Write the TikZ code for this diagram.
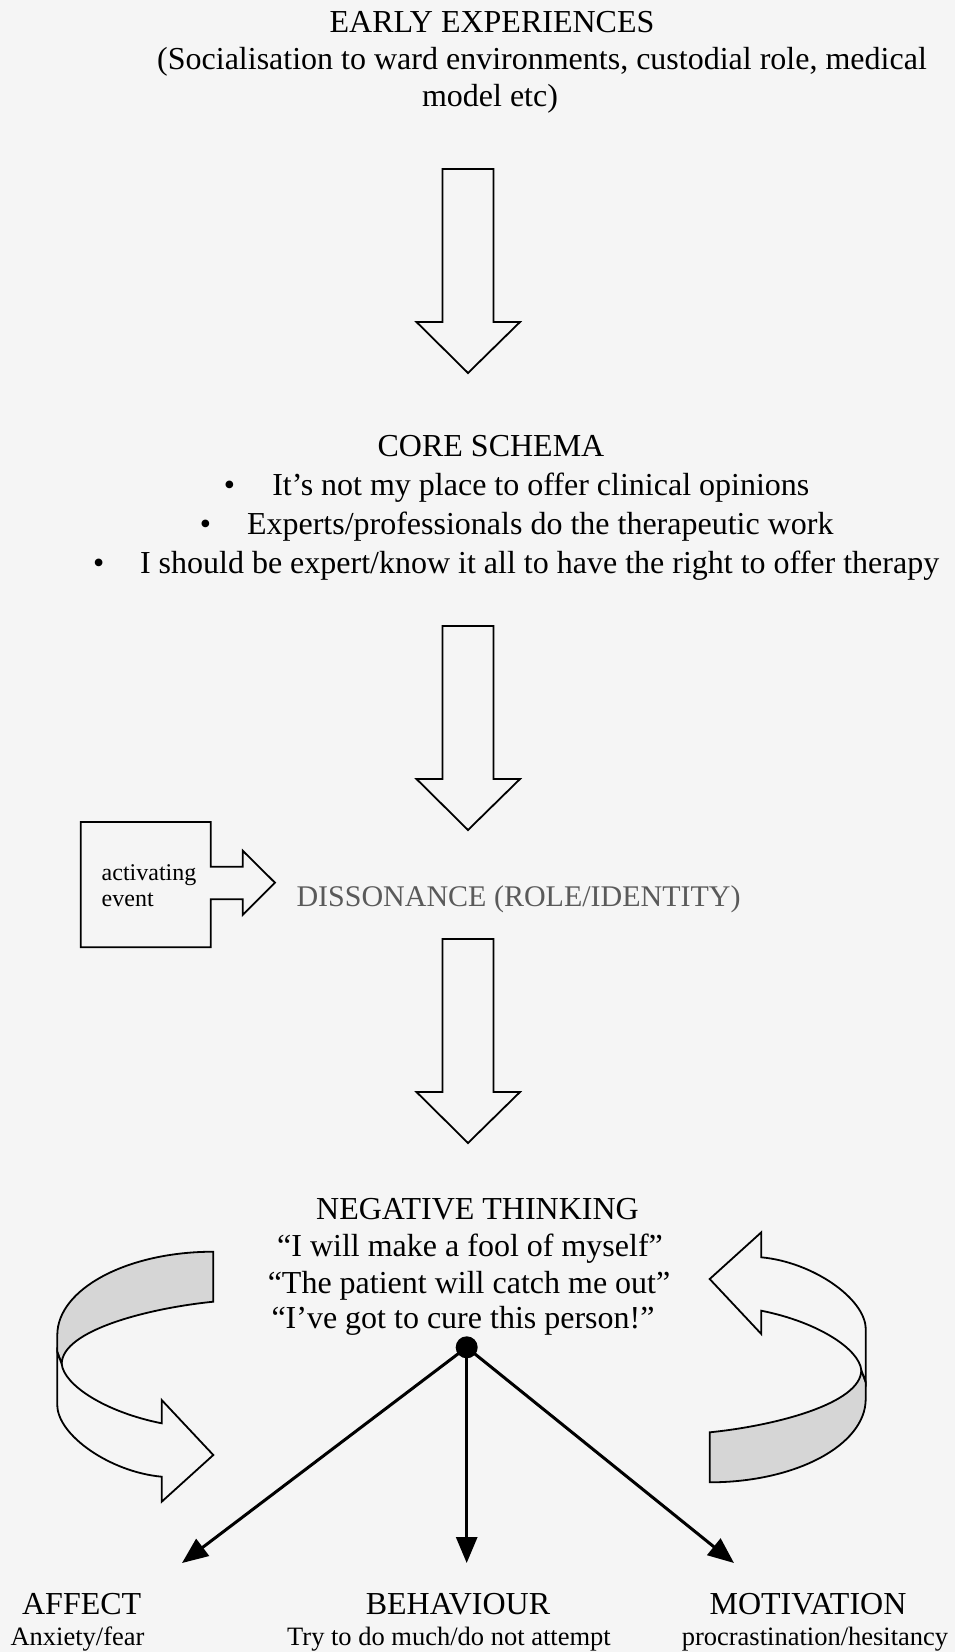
\documentclass[tikz,border=0pt]{standalone}
\usepackage{fontspec}
\setmainfont{Liberation Serif}
\usetikzlibrary{arrows.meta}
\definecolor{paper}{RGB}{245,245,245}
\definecolor{band}{RGB}{214,214,214}
\definecolor{dimtext}{RGB}{90,90,90}
\begin{document}
\begin{tikzpicture}[x=1pt,y=-1pt,
  txt/.style={inner sep=0pt, outer sep=0pt, anchor=base, text=black,
    font=\fontsize{32}{38}\selectfont},
  subtxt/.style={txt, font=\fontsize{26.5}{30}\selectfont},
  smalltxt/.style={txt, anchor=base west, font=\fontsize{24}{27}\selectfont},
  outline/.style={draw=black, line width=1.8pt, line join=miter},
  blockarrow/.style={outline, fill=paper},
  link/.style={line width=3pt, -{Triangle[length=26pt,width=21pt]}},
]
\fill[paper] (0,0) rectangle (955,1652);
\useasboundingbox (0,0) rectangle (955,1652);

% ---- early experiences
\node[txt] (early) at (492,32) {EARLY EXPERIENCES};
\node[txt] (early2) at (542,69.5) {(Socialisation to ward environments, custodial role, medical};
\node[txt] (early3) at (490,106) {model etc)};

% ---- hollow downward block arrows
\foreach \t in {169,626,939}
  \draw[blockarrow] (442.5,\t) -- (493.5,\t) -- (493.5,\t+153) -- (520,\t+153)
    -- (468,\t+204) -- (416.5,\t+153) -- (442.5,\t+153) -- cycle;

% ---- core schema
\node[txt] (core) at (491,456) {CORE SCHEMA};
\node[txt] (b1) at (229.5,495) {•};
\node[txt, anchor=base west] (s1) at (272.3,495) {It’s not my place to offer clinical opinions};
\node[txt] (b2) at (205.5,534) {•};
\node[txt, anchor=base west] (s2) at (247,534) {Experts/professionals do the therapeutic work};
\node[txt] (b3) at (98.8,573) {•};
\node[txt, anchor=base west] (s3) at (140,573) {I should be expert/know it all to have the right to offer therapy};

% ---- activating event box with its arrow
\draw[outline, fill=paper] (80.7,822) -- (210.7,822) -- (210.7,866.7) -- (242.7,866.7)
  -- (242.7,850.7) -- (275,882.7) -- (242.7,915) -- (242.7,899.3) -- (210.7,899.3)
  -- (210.7,947.3) -- (80.7,947.3) -- cycle;
\node[smalltxt] (act1) at (101.7,880) {activating};
\node[smalltxt] (act2) at (101.7,906.7) {event};
\node[txt, font=\fontsize{30}{34}\selectfont, text=dimtext] (diss) at (518.6,906.7) {DISSONANCE (ROLE/IDENTITY)};

% ---- negative thinking
\node[txt] (neg) at (477.5,1219) {NEGATIVE THINKING};
\node[txt] (q1) at (470,1256.7) {“I will make a fool of myself”};
\node[txt] (q2) at (469,1293.3) {“The patient will catch me out”};
\node[txt] (q3) at (463,1328.3) {“I’ve got to cure this person!”};

% ---- twisted ribbon arrows (the right one is the left one turned half round)
\foreach \ang in {0,180}{
  \begin{scope}[rotate around={\ang:(461.5,1367)}]
    \filldraw[outline, fill=band] (213.3,1251.7) .. controls (127.1,1251.7) and (57.3,1289) .. (57.3,1335)
      -- (57.3,1352) -- (61.7,1364) .. controls (61.7,1330) and (150,1308) .. (213.3,1301.7) -- cycle;
    \draw[outline, fill=paper] (61.7,1364) .. controls (64,1385) and (105,1412) .. (161.7,1423.3)
      -- (161.7,1400) -- (213.3,1455) -- (161.7,1501.7) -- (161.7,1476.7)
      .. controls (110,1472) and (57.3,1435) .. (57.3,1405) -- (57.3,1352) -- cycle;
  \end{scope}
}

% ---- branching to the three consequences
\node[circle, fill=black, minimum size=22pt, inner sep=0pt] (hub) at (466.7,1347.3) {};
\coordinate (affectTip) at (182,1563);
\coordinate (behavTip) at (466.7,1563);
\coordinate (motivTip) at (734,1563);
\draw[link] (hub.center) -- (affectTip);
\draw[link] (hub.center) -- (behavTip);
\draw[link] (hub.center) -- (motivTip);

\node[txt] (affect) at (81.7,1614) {AFFECT};
\node[subtxt] (affectSub) at (77.5,1645) {Anxiety/fear};
\node[txt] (behav) at (458,1614) {BEHAVIOUR};
\node[subtxt] (behavSub) at (449,1645) {Try to do much/do not attempt};
\node[txt] (motiv) at (808,1614) {MOTIVATION};
\node[subtxt] (motivSub) at (815,1645) {procrastination/hesitancy};
\end{tikzpicture}
\end{document}
